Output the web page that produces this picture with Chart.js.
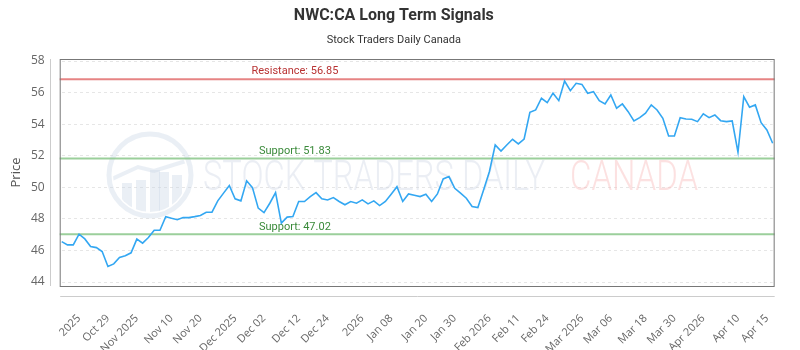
<!DOCTYPE html>
<html>
<head>
<meta charset="utf-8">
<script src="https://cdn.jsdelivr.net/npm/chart.js@4.4.1/dist/chart.umd.min.js"></script>
<style>
  html, body { margin: 0; padding: 0; background: #fff; }
  #wrap { width: 800px; height: 350px; }
</style>
</head>
<body>
<div id="wrap"><canvas id="signalChart"></canvas></div>
<script>
// NWC:CA long term signals — closing prices
const prices = [
  46.56, 46.35, 46.35, 47.03, 46.73, 46.25, 46.18, 45.93, 44.98, 45.15,
  45.55, 45.66, 45.85, 46.72, 46.46, 46.82, 47.28, 47.28, 48.14, 48.04,
  47.95, 48.08, 48.08, 48.14, 48.21, 48.42, 48.42, 49.14, 49.63, 50.11,
  49.27, 49.14, 50.41, 49.98, 48.68, 48.40, 48.99, 49.66, 47.73, 48.11,
  48.15, 49.10, 49.10, 49.41, 49.66, 49.27, 49.20, 49.35, 49.10, 48.89,
  49.10, 48.99, 49.20, 48.95, 49.14, 48.84, 49.10, 49.56, 50.04, 49.10,
  49.58, 49.50, 49.41, 49.56, 49.10, 49.58, 50.53, 50.68, 49.94, 49.63,
  49.31, 48.78, 48.72, 49.84, 51.00, 52.68, 52.30, 52.68, 53.04, 52.75,
  53.06, 54.75, 54.90, 55.64, 55.36, 55.96, 55.49, 56.73, 56.12, 56.59,
  56.52, 55.96, 56.06, 55.49, 55.28, 55.85, 55.01, 55.28, 54.79, 54.20,
  54.41, 54.69, 55.22, 54.90, 54.37, 53.25, 53.25, 54.41, 54.33, 54.31,
  54.16, 54.66, 54.41, 54.58, 54.22, 54.16, 54.20, 52.22, 55.74, 55.07,
  55.22, 54.09, 53.63, 52.79
];

// x axis labels and the point index each one sits on
const tickNames = [
  '2025', 'Oct 29', 'Nov 2025', 'Nov 10', 'Nov 20', 'Dec 2025', 'Dec 02', 'Dec 12',
  'Dec 24', '2026', 'Jan 08', 'Jan 20', 'Jan 30', 'Feb 2026', 'Feb 11', 'Feb 24',
  'Mar 2026', 'Mar 06', 'Mar 18', 'Mar 30', 'Apr 2026', 'Apr 10', 'Apr 15'
];
const tickIndices = [3, 8, 13, 19, 24, 30, 35, 41, 46, 52, 57, 63, 68, 74, 79, 84, 90, 95, 101, 106, 111, 117, 122];

const yTicks = [44, 46, 48, 50, 52, 54, 56, 58];

// signal levels
const levelNames = ['Resistance', 'Support', 'Support'];
const levelValues = [56.85, 51.83, 47.02];

const labels = prices.map((_, i) => {
  const k = tickIndices.indexOf(i);
  return k === -1 ? '' : tickNames[k];
});

// Plot frame, offset axis lines and watermark
const framePlugin = {
  id: 'frame',
  beforeDatasetsDraw(chart) {
    const { ctx, chartArea: a } = chart;
    ctx.save();

    // watermark logo: ring, bars and a trend stroke
    const cx = 150, cy = 175, r = 41;
    const wm = 'rgba(200, 212, 228, 0.38)';
    ctx.strokeStyle = wm;
    ctx.lineWidth = 5;
    ctx.beginPath();
    ctx.arc(cx, cy, r, 0, Math.PI * 2);
    ctx.stroke();
    ctx.save();
    ctx.beginPath();
    ctx.arc(cx, cy, r - 4, 0, Math.PI * 2);
    ctx.clip();
    ctx.fillStyle = wm;
    [[-28, 183], [-14, 180], [0, 170], [9, 172], [22, 175]].forEach(([dx, top]) => {
      ctx.fillRect(cx + dx, top, 10, 230 - top);
    });
    ctx.strokeStyle = wm;
    ctx.lineWidth = 4;
    ctx.beginPath();
    ctx.moveTo(cx - 38, cy + 4);
    ctx.lineTo(cx - 12, cy - 8);
    ctx.lineTo(cx + 4, cy - 4);
    ctx.lineTo(cx + 36, cy - 14);
    ctx.stroke();
    ctx.restore();

    // watermark text, squeezed to the reference widths
    ctx.textBaseline = 'middle';
    ctx.textAlign = 'left';
    ctx.font = '300 42px Roboto';
    const drawFit = (txt, x, w, color) => {
      const m = ctx.measureText(txt).width;
      ctx.save();
      ctx.translate(x, 179);
      ctx.scale(w / m, 1);
      ctx.fillStyle = color;
      ctx.fillText(txt, 0, 0);
      ctx.restore();
    };
    drawFit('STOCK TRADERS DAILY', 203, 342, 'rgba(205, 213, 228, 0.4)');
    drawFit('CANADA', 570, 128, 'rgba(248, 188, 188, 0.45)');

    // support / resistance
    const y = chart.scales.y;
    const labelX = a.left + (a.right - a.left) * 0.328;
    levelValues.forEach((v, i) => {
      const py = y.getPixelForValue(v);
      const isRes = levelNames[i] === 'Resistance';
      ctx.strokeStyle = isRes ? 'rgba(226, 110, 110, 0.85)' : 'rgba(130, 195, 130, 0.8)';
      ctx.lineWidth = 2;
      ctx.beginPath();
      ctx.moveTo(a.left - 2, py);
      ctx.lineTo(a.right + 2, py);
      ctx.stroke();
      ctx.fillStyle = isRes ? '#b83232' : '#3a8a3a';
      ctx.font = '11px Roboto';
      ctx.textAlign = 'center';
      ctx.textBaseline = 'bottom';
      ctx.fillText(`${levelNames[i]}: ${v.toFixed(2)}`, labelX, py - 2);
    });

    ctx.restore();
  },
  afterDraw(chart) {
    const { ctx, chartArea: a } = chart;
    ctx.save();
    ctx.strokeStyle = '#777';
    ctx.lineWidth = 1;
    ctx.strokeRect(a.left - 1.5, a.top + 0.5, a.right - a.left + 3, a.bottom - a.top);
    ctx.strokeStyle = '#ccc';
    ctx.beginPath();
    ctx.moveTo(50.5, a.top);
    ctx.lineTo(50.5, a.bottom);
    ctx.moveTo(a.left - 1.5, 296.5);
    ctx.lineTo(a.right + 2, 296.5);
    ctx.stroke();
    ctx.restore();
  }
};

function renderSignalChart() {
  const ctx = document.getElementById('signalChart').getContext('2d');

  new Chart(ctx, {
    type: 'line',
    data: {
      labels: labels,
      datasets: [{
        label: 'Price',
        data: prices,
        borderColor: '#33a7f2',
        borderWidth: 1.6,
        pointRadius: 0,
        tension: 0,
        fill: false
      }]
    },
    options: {
      responsive: true,
      maintainAspectRatio: false,
      animation: false,
      layout: { padding: { left: 0, right: 12.3, top: 0, bottom: 0 } },
      plugins: {
        legend: { display: false },
        tooltip: { enabled: false },
        title: {
          display: true,
          text: 'NWC:CA Long Term Signals',
          color: '#333',
          font: { family: 'Roboto', size: 16, weight: 'bold', lineHeight: 1.2 },
          padding: { top: 6, bottom: 6 }
        },
        subtitle: {
          display: true,
          text: 'Stock Traders Daily Canada',
          color: '#333',
          font: { family: 'Roboto', size: 11, lineHeight: 1.2 },
          padding: { top: 2, bottom: 12.6 }
        }
      },
      scales: {
        x: {
          offset: false,
          grid: { display: false },
          border: { display: false },
          ticks: {
            autoSkip: false,
            maxRotation: 45,
            minRotation: 45,
            padding: 18,
            color: '#666',
            font: { family: 'Open Sans', size: 11 }
          },
          afterFit(scale) { scale.height = 64; }
        },
        y: {
          min: 43.747,
          max: 58.127,
          afterBuildTicks(scale) { scale.ticks = yTicks.map(v => ({ value: v })); },
          grid: {
            color: '#e6e6e6',
            drawTicks: false
          },
          border: { display: false, dash: [3, 3] },
          ticks: {
            padding: 17,
            color: '#666',
            font: { family: 'Open Sans', size: 12 }
          },
          title: {
            display: true,
            text: 'Price',
            color: '#555',
            font: { family: 'Open Sans', size: 13 },
            padding: { top: 8, bottom: 0 }
          },
          afterFit(scale) { scale.width = 61.7; }
        }
      }
    },
    plugins: [framePlugin]
  });
}

renderSignalChart();
</script>
</body>
</html>
